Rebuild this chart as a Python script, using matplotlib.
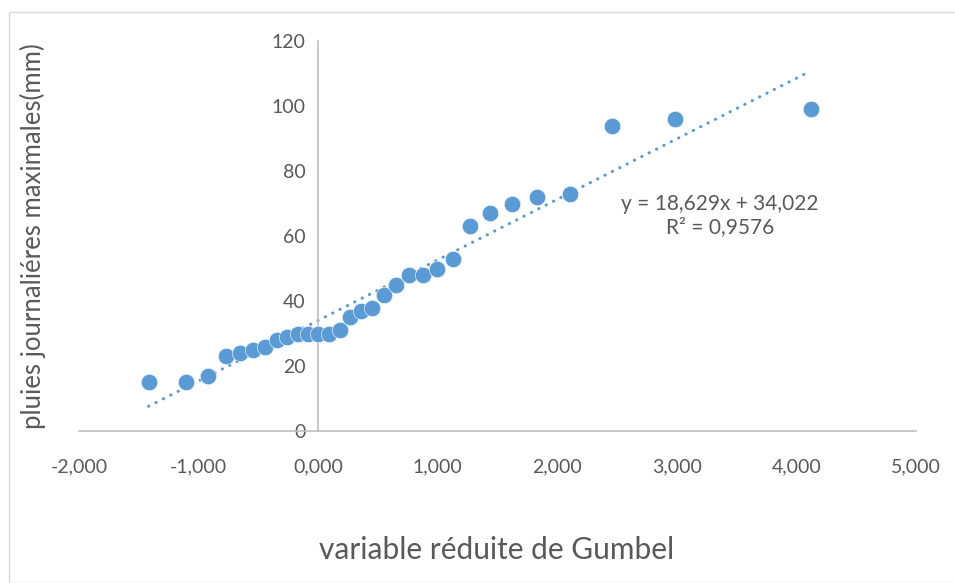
import matplotlib.pyplot as plt
from matplotlib.patches import Rectangle

# Gumbel reduced variable vs max daily rainfall
gumbel_u = [-1.418, -1.104, -0.920, -0.769, -0.652, -0.543, -0.443, -0.343,
            -0.259, -0.167, -0.084, 0.000, 0.092, 0.184, 0.268, 0.360,
            0.450, 0.552, 0.652, 0.761, 0.878, 0.995, 1.129, 1.271,
            1.438, 1.622, 1.831, 2.107, 2.458, 2.985, 4.119]
rain_mm = [15, 15, 17, 23, 24, 25, 26, 28,
           29, 30, 30, 30, 30, 31, 35, 37,
           38, 42, 45, 48, 48, 50, 53, 63,
           67, 70, 72, 73, 94, 96, 99]
slope = 18.629
intercept = 34.022
r2_label = "0,9576"

x_ticks = [-2, -1, 0, 1, 2, 3, 4, 5]
y_ticks = [0, 20, 40, 60, 80, 100, 120]

blue = "#5B9BD5"
text_grey = "#595959"
axis_grey = "#BFBFBF"

plt.rcParams["font.family"] = ["Lato", "DejaVu Sans"]

fig = plt.figure(figsize=(9.55, 5.83), dpi=100)
fig.patches.append(Rectangle((9 / 955, 0), 1, 1 - 12 / 583, transform=fig.transFigure,
                             fill=False, edgecolor="#D9D9D9", linewidth=1))
ax = fig.add_axes([79 / 955, 1 - 431 / 583, (916 - 79) / 955, (431 - 41) / 583])

# trendline over the data range
x0, x1 = min(gumbel_u), max(gumbel_u)
ax.plot([x0, x1], [slope * x0 + intercept, slope * x1 + intercept],
        color=blue, linewidth=2.2, linestyle=(0, (0.1, 2.6)),
        dash_capstyle="round", zorder=2)
ax.scatter(gumbel_u, rain_mm, s=140, color=blue, edgecolors="white",
           linewidths=0.4, zorder=3)

ax.set_xlim(-2, 5)
ax.set_ylim(0, 120)
ax.set_xticks(x_ticks)
ax.set_xticklabels([f"{t:.3f}".replace(".", ",") for t in x_ticks])
ax.set_yticks(y_ticks)

for side in ("top", "right"):
    ax.spines[side].set_visible(False)
ax.spines["left"].set_position(("data", 0))
ax.spines["left"].set_color(axis_grey)
ax.spines["bottom"].set_color(axis_grey)
ax.spines["left"].set_linewidth(1.2)
ax.spines["bottom"].set_linewidth(1.2)
ax.tick_params(axis="both", length=0, labelsize=14, colors=text_grey)
ax.tick_params(axis="x", pad=20)
ax.tick_params(axis="y", pad=9)

ax.text(3.36, 66.3, f"y = {slope:.3f}x + {intercept:.3f}".replace(".", ",")
        + "\nR² = " + r2_label,
        ha="center", va="center", fontsize=15, color=text_grey, linespacing=1.25)

fig.text(497 / 955, 1 - 550 / 583, "variable réduite de Gumbel",
         ha="center", va="center", fontsize=21.5, color=text_grey)
fig.text(33 / 955, 1 - 236 / 583, "pluies journaliéres maximales(mm)",
         ha="center", va="center", rotation=90, fontsize=18.5, color=text_grey)

fig.savefig("out.png", dpi=100)
